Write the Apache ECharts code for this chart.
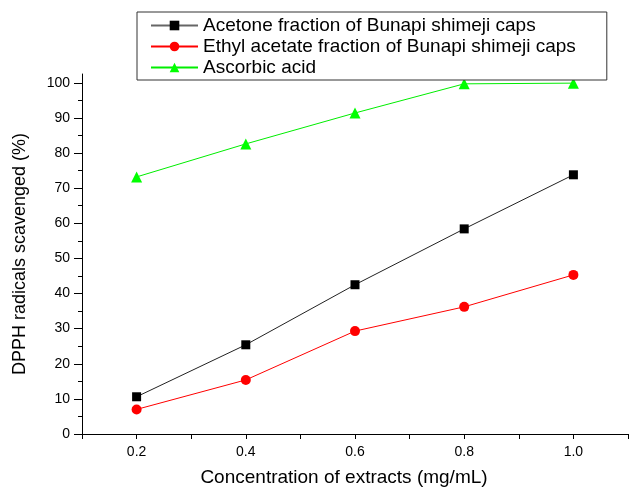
<!DOCTYPE html>
<html>
<head>
<meta charset="utf-8">
<script src="https://cdn.jsdelivr.net/npm/echarts@6/dist/echarts.min.js"></script>
<style>
  html, body { margin: 0; padding: 0; background: #fff; }
  #chart { width: 629px; height: 488px; }
</style>
</head>
<body>
<div id="chart"></div>
<script>
// concentrations (mg/mL)
var concentrations = [0.2, 0.4, 0.6, 0.8, 1.0];
// DPPH radicals scavenged (%)
var acetone = [10.6, 25.4, 42.5, 58.4, 73.8];
var ethylAcetate = [7.0, 15.4, 29.3, 36.2, 45.3];
var ascorbic = [73.2, 82.6, 91.4, 99.7, 99.9];
var seriesNames = [
    'Acetone fraction of Bunapi shimeji caps',
    'Ethyl acetate fraction of Bunapi shimeji caps',
    'Ascorbic acid'
];
var yMajorTicks = [0, 10, 20, 30, 40, 50, 60, 70, 80, 90, 100];
var yMinorTicks = [5, 15, 25, 35, 45, 55, 65, 75, 85, 95];

function pairs(ys){
    var out = [];
    for (var i = 0; i < concentrations.length; i++) {
        out.push([concentrations[i], ys[i]]);
    }
    return out;
}

var font = 'Liberation Sans, Arial, sans-serif';
var myChart = echarts.init(document.getElementById('chart'), null, {renderer: 'canvas'});

var option = {
    animation: false,
    backgroundColor: '#fff',
    textStyle: { fontFamily: font },
    grid: { left: 82, right: 1, top: 74, bottom: 54, containLabel: false, outerBoundsMode: 'none' },
    legend: {
        orient: 'vertical',
        left: 137,
        top: 12,
        padding: [3, 31, 2, 13],
        itemGap: 0,
        itemWidth: 47,
        itemHeight: 12,
        borderColor: '#333',
        borderWidth: 1,
        backgroundColor: '#fff',
        textStyle: { fontSize: 19, lineHeight: 21, color: '#000', fontFamily: font },
        data: [
            { name: seriesNames[0], itemStyle: { color: '#000' }, lineStyle: { color: '#666' } },
            { name: seriesNames[1] },
            { name: seriesNames[2] }
        ]
    },
    xAxis: {
        type: 'value',
        min: 0.1,
        max: 1.1,
        interval: 0.1,
        name: 'Concentration of extracts (mg/mL)',
        nameLocation: 'middle',
        nameGap: 34,
        nameTextStyle: { fontSize: 19, color: '#000', padding: [0, 22, 0, 0] },
        splitLine: { show: false },
        axisLine: { lineStyle: { color: '#000', width: 1 } },
        axisTick: { length: 5, lineStyle: { color: '#000' } },
        axisLabel: {
            fontSize: 14,
            color: '#000',
            margin: 11,
            formatter: function(v){
                var k = Math.round(v * 10);
                return k % 2 === 0 ? (k / 10).toFixed(1) : '';
            }
        }
    },
    yAxis: [
        {
            type: 'value',
            min: 0,
            max: 102.5,
            name: 'DPPH radicals scavenged (%)',
            nameLocation: 'middle',
            nameGap: 53,
            nameTextStyle: { fontSize: 18, color: '#000' },
            splitLine: { show: false },
            axisLine: { show: true, lineStyle: { color: '#000', width: 1 } },
            axisTick: { length: 8, customValues: yMajorTicks, lineStyle: { color: '#000' } },
            axisLabel: { fontSize: 14, color: '#000', margin: 12, customValues: yMajorTicks }
        },
        {
            type: 'value',
            min: 0,
            max: 102.5,
            position: 'left',
            splitLine: { show: false },
            axisLine: { show: false },
            axisTick: { show: true, length: 4, customValues: yMinorTicks, lineStyle: { color: '#000' } },
            axisLabel: { show: false }
        }
    ],
    series: [
        {
            name: seriesNames[0],
            type: 'line',
            data: pairs(acetone),
            symbol: 'rect',
            symbolSize: 9,
            color: '#000',
            lineStyle: { color: '#222', width: 1 },
            itemStyle: { color: '#000' }
        },
        {
            name: seriesNames[1],
            type: 'line',
            data: pairs(ethylAcetate),
            symbol: 'circle',
            symbolSize: 10,
            color: '#ff0000',
            lineStyle: { color: '#ff0000', width: 1 },
            itemStyle: { color: '#ff0000' }
        },
        {
            name: seriesNames[2],
            type: 'line',
            data: pairs(ascorbic),
            symbol: 'triangle',
            symbolSize: 11,
            color: '#00ff00',
            lineStyle: { color: '#00ee00', width: 1 },
            itemStyle: { color: '#00ff00' }
        }
    ]
};
myChart.setOption(option);
</script>
</body>
</html>
